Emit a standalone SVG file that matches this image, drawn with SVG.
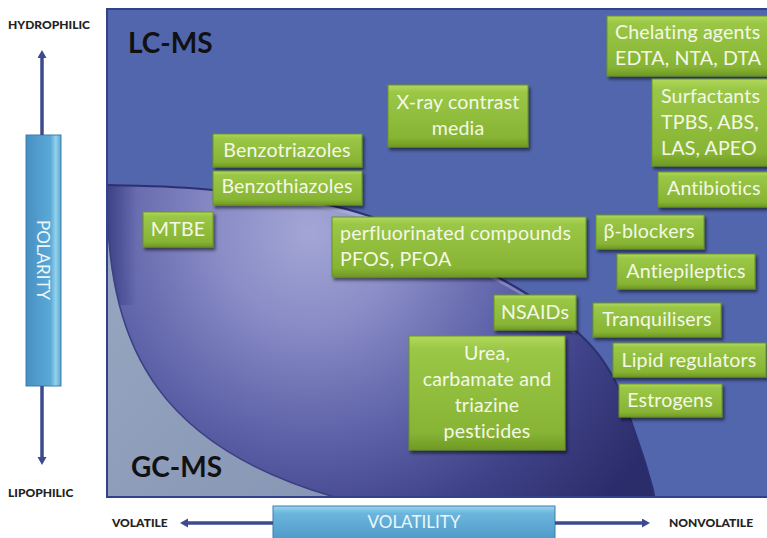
<svg xmlns="http://www.w3.org/2000/svg" width="767" height="538" viewBox="0 0 767 538">
<style>
  .box { fill: url(#green); stroke: #6a9322; stroke-width: 1; filter: url(#shadow); }
  .bt { font-family: Lato, "Open Sans", sans-serif; font-size: 19.6px; letter-spacing: 0.15px; fill: #f4f8e6; }
  .mid { text-anchor: middle; }
  .big { font-family: Lato, "Liberation Sans", sans-serif; font-weight: bold; font-size: 28px; fill: #111; }
  .ax { font-family: Lato, "Liberation Sans", sans-serif; font-weight: 900; font-size: 12px; fill: #222; }
  .axis-line { stroke: #3e4a8e; stroke-width: 3.5; fill: none; marker-end: url(#arrow); }
  .bartext { font-family: Lato, "Open Sans", sans-serif; font-size: 17px; fill: #eaf6fb; }
</style>
<defs>
  <linearGradient id="green" x1="0" y1="0" x2="0" y2="1">
    <stop offset="0" stop-color="#b2d85c"/>
    <stop offset="0.12" stop-color="#9ac746"/>
    <stop offset="0.85" stop-color="#87b434"/>
    <stop offset="1" stop-color="#6f9a24"/>
  </linearGradient>
  <linearGradient id="vbar" x1="0" y1="0" x2="1" y2="0">
    <stop offset="0" stop-color="#4790c2"/>
    <stop offset="0.7" stop-color="#5ba9d6"/>
    <stop offset="0.85" stop-color="#92d2ec"/>
    <stop offset="1" stop-color="#5aa4cf"/>
  </linearGradient>
  <linearGradient id="hbar" x1="0" y1="0" x2="0" y2="1">
    <stop offset="0" stop-color="#9ad6ee"/>
    <stop offset="0.2" stop-color="#6cb6dd"/>
    <stop offset="1" stop-color="#4b98c7"/>
  </linearGradient>
  <radialGradient id="dome" gradientUnits="userSpaceOnUse" cx="310" cy="232" r="400">
    <stop offset="0" stop-color="#a3a6d5"/>
    <stop offset="0.22" stop-color="#8b8ec7"/>
    <stop offset="0.5" stop-color="#6064aa"/>
    <stop offset="0.75" stop-color="#3f4288"/>
    <stop offset="1" stop-color="#2b2c6a"/>
  </radialGradient>
  <linearGradient id="grey" x1="0" y1="0" x2="1" y2="1">
    <stop offset="0" stop-color="#98a8c2"/>
    <stop offset="1" stop-color="#8595b3"/>
  </linearGradient>
  <linearGradient id="leftshade" x1="0" y1="0" x2="1" y2="0">
    <stop offset="0" stop-color="#2f3378" stop-opacity="0.7"/>
    <stop offset="1" stop-color="#2f3378" stop-opacity="0"/>
  </linearGradient>
  <clipPath id="panelclip">
    <rect x="107" y="9" width="662" height="488"/>
  </clipPath>
  <filter id="shadow" x="-10%" y="-20%" width="130%" height="150%">
    <feDropShadow dx="2" dy="3" stdDeviation="1.8" flood-color="#000" flood-opacity="0.5"/>
  </filter>
  <marker id="arrow" markerUnits="userSpaceOnUse" markerWidth="10" markerHeight="10" refX="0" refY="4.5" orient="auto">
    <path d="M0,0 L8,4.5 L0,9 Z" fill="#3e4a8e"/>
  </marker>
</defs>

<g id="panel">
  <rect x="107" y="9" width="662" height="488" fill="#5266ae"/>
  <g clip-path="url(#panelclip)">
    <path id="dome-shape" fill="url(#dome)" d="M105,185 C124.7,185.8 170.8,185.3 213,190 C255.2,194.7 311.7,198 360,213 C408.3,228 467.2,260.5 503,280 C538.8,299.5 556.7,313.8 575,330 C593.3,346.2 602.2,357.5 613,377 C623.8,396.5 633.3,428.2 640,447 C646.7,465.8 650.5,481.2 653,490 L655,500 L105,500 Z"/>
    <rect x="107" y="185" width="30" height="120" fill="url(#leftshade)"/>
    <path fill="none" stroke="#c4c6ea" stroke-opacity="0.35" stroke-width="3" transform="translate(0,3)" d="M213,190 C255.2,194.7 311.7,198 360,213 C408.3,228 467.2,260.5 503,280 C538.8,299.5 556.7,313.8 575,330"/>
    <path fill="none" stroke="#2c3070" stroke-width="2" d="M105,185 C124.7,185.8 170.8,185.3 213,190 C255.2,194.7 311.7,198 360,213 C408.3,228 467.2,260.5 503,280 C538.8,299.5 556.7,313.8 575,330 C593.3,346.2 602.2,357.5 613,377 C623.8,396.5 633.3,428.2 640,447 C646.7,465.8 650.5,481.2 653,490 L655,500"/>
    <path id="gc-region" fill="url(#grey)" stroke="#3c3f82" stroke-width="1.5" d="M107,205 C110,350 160,450 345,500 L105,500 L105,205 Z"/>
  </g>
  <rect x="107" y="9" width="662" height="488" fill="none" stroke="#33418a" stroke-width="2"/>
  <text class="big" x="128" y="53">LC-MS</text>
  <text class="big" x="131" y="477">GC-MS</text>
</g>

<g id="polarity-axis">
  <text class="ax" x="8" y="29">HYDROPHILIC</text>
  <text class="ax" x="8" y="497">LIPOPHILIC</text>
  <rect x="26" y="135" width="35" height="251" fill="url(#vbar)" stroke="#3a7fae" stroke-width="1"/>
  <text class="bartext mid" transform="translate(43,260) rotate(90)" y="6">POLARITY</text>
</g>

<g id="volatility-axis">
  <text class="ax" x="112" y="527">VOLATILE</text>
  <text class="ax" x="669" y="527">NONVOLATILE</text>
  <rect x="273" y="506" width="282" height="36" fill="url(#hbar)" stroke="#3a7fae" stroke-width="1"/>
  <text class="bartext mid" x="414" y="528">VOLATILITY</text>
</g>

<g id="connectors">
  <line class="axis-line" x1="42" y1="135" x2="42" y2="58"/>
  <line class="axis-line" x1="42" y1="386" x2="42" y2="457"/>
  <line class="axis-line" x1="273" y1="523" x2="188" y2="523"/>
  <line class="axis-line" x1="555" y1="523" x2="642" y2="523"/>
</g>

<g id="node-chelating">
  <rect class="box" x="607" y="16" width="165" height="60"/>
  <text class="bt" x="615" y="39">Chelating agents</text>
  <text class="bt" x="615" y="65">EDTA, NTA, DTA</text>
</g>
<g id="node-surfactants">
  <rect class="box" x="652" y="79" width="120" height="87"/>
  <text class="bt" x="661" y="103">Surfactants</text>
  <text class="bt" x="661" y="129">TPBS, ABS,</text>
  <text class="bt" x="661" y="155">LAS, APEO</text>
</g>
<g id="node-antibiotics">
  <rect class="box" x="658" y="172" width="114" height="35"/>
  <text class="bt" x="667" y="195">Antibiotics</text>
</g>
<g id="node-xray">
  <rect class="box" x="388" y="85" width="140" height="62"/>
  <text class="bt mid" x="458" y="109">X-ray contrast</text>
  <text class="bt mid" x="458" y="135">media</text>
</g>
<g id="node-benzotriazoles">
  <rect class="box" x="213" y="134" width="149" height="33"/>
  <text class="bt mid" x="287" y="157">Benzotriazoles</text>
</g>
<g id="node-benzothiazoles">
  <rect class="box" x="213" y="171" width="149" height="34"/>
  <text class="bt mid" x="287" y="193">Benzothiazoles</text>
</g>
<g id="node-mtbe">
  <rect class="box" x="143" y="212" width="70" height="35"/>
  <text class="bt mid" x="178" y="236">MTBE</text>
</g>
<g id="node-perfluorinated">
  <rect class="box" x="332" y="217" width="254" height="60"/>
  <text class="bt" x="340" y="240">perfluorinated compounds</text>
  <text class="bt" x="340" y="266">PFOS, PFOA</text>
</g>
<g id="node-betablockers">
  <rect class="box" x="596" y="215" width="108" height="34"/>
  <text class="bt mid" x="649" y="238">β-blockers</text>
</g>
<g id="node-antiepileptics">
  <rect class="box" x="617" y="254" width="138" height="35"/>
  <text class="bt mid" x="686" y="278">Antiepileptics</text>
</g>
<g id="node-nsaids">
  <rect class="box" x="494" y="295" width="82" height="35"/>
  <text class="bt mid" x="535" y="319">NSAIDs</text>
</g>
<g id="node-tranquilisers">
  <rect class="box" x="593" y="303" width="128" height="34"/>
  <text class="bt mid" x="657" y="326">Tranquilisers</text>
</g>
<g id="node-lipid">
  <rect class="box" x="613" y="343" width="153" height="34"/>
  <text class="bt mid" x="689" y="367">Lipid regulators</text>
</g>
<g id="node-estrogens">
  <rect class="box" x="619" y="384" width="103" height="33"/>
  <text class="bt mid" x="670" y="407">Estrogens</text>
</g>
<g id="node-urea">
  <rect class="box" x="409" y="336" width="156" height="114"/>
  <text class="bt mid" x="487" y="360">Urea,</text>
  <text class="bt mid" x="487" y="386">carbamate and</text>
  <text class="bt mid" x="487" y="412">triazine</text>
  <text class="bt mid" x="487" y="438">pesticides</text>
</g>
</svg>
